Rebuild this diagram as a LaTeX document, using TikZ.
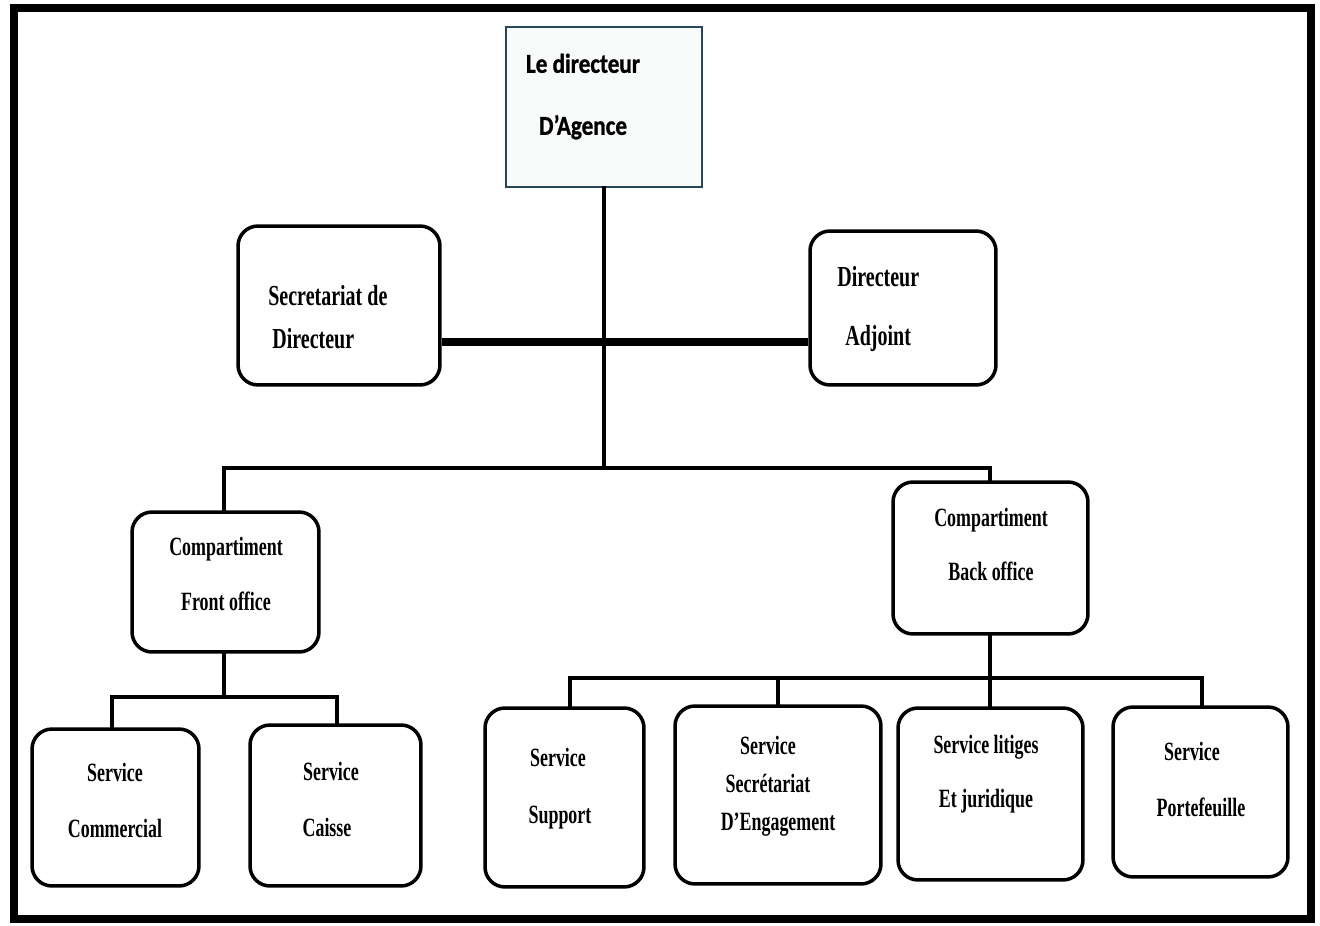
\documentclass[tikz,border=0pt]{standalone}
\usepackage{fontspec}
\newfontfamily\serifc{Liberation Serif Bold}[FakeStretch=0.68]
\newfontfamily\serifm{Liberation Serif Bold}[FakeStretch=0.69]
\newfontfamily\calib{Carlito}[FakeStretch=0.85,FakeBold=1]
\begin{document}
\begin{tikzpicture}[x=0.02cm,y=-0.02cm,
  box/.style={draw=black,line width=2pt,rounded corners=0.4cm,fill=white,inner sep=0pt},
  topbox/.style={draw={rgb,255:red,40;green,70;blue,90},line width=1.2pt,fill={rgb,255:red,249;green,250;blue,250},inner sep=0pt},
  conn/.style={line width=2.6pt,line cap=rect},
  thick conn/.style={line width=5pt},
  lbl/.style={font=\serifc\fontsize{15}{18}\selectfont,inner sep=0pt,anchor=mid,yshift=-0.07cm},
  lblm/.style={font=\serifm\fontsize{16.5}{19}\selectfont,inner sep=0pt,anchor=mid west,yshift=-0.07cm},
  lbltop/.style={font=\calib\bfseries\fontsize{15.5}{18}\selectfont,inner sep=0pt,anchor=mid,yshift=-0.06cm}]
\useasboundingbox (0,0) rectangle (1320,926);
\fill[white] (0,0) rectangle (1320,926);
\draw[line width=5pt] (14,8) rectangle (1311,919);
% boxes
\node[topbox,minimum width=3.92cm,minimum height=3.2cm] (top) at (604,107) {};
\node[box,minimum width=4.04cm,minimum height=3.18cm] (sec) at (339,305.5) {};
\node[box,minimum width=3.72cm,minimum height=3.08cm] (adj) at (903,308) {};
\node[box,minimum width=3.74cm,minimum height=2.8cm] (fo) at (225.5,582) {};
\node[box,minimum width=3.9cm,minimum height=3.04cm] (bo) at (990.5,558) {};
\node[box,minimum width=3.34cm,minimum height=3.14cm] (com) at (115.5,807.5) {};
\node[box,minimum width=3.42cm,minimum height=3.22cm] (cai) at (335.5,805.5) {};
\node[box,minimum width=3.18cm,minimum height=3.58cm] (sup) at (564.5,797.5) {};
\node[box,minimum width=4.12cm,minimum height=3.56cm] (eng) at (778,795) {};
\node[box,minimum width=3.7cm,minimum height=3.44cm] (lit) at (990.5,794) {};
\node[box,minimum width=3.5cm,minimum height=3.4cm] (por) at (1200.5,792) {};
% junction coordinates
\coordinate (j1) at (604,468);
\coordinate (jl) at (224,468);
\coordinate (jr) at (990,468);
\coordinate (f0) at (224,697);
\coordinate (f1) at (112,697);
\coordinate (f2) at (337,697);
\coordinate (b0) at (990,678);
\coordinate (b1) at (570,678);
\coordinate (b2) at (778,678);
\coordinate (b4) at (1202,678);
\coordinate (m) at (604,342);
% connectors
\draw[thick conn] (sec.east |- m) -- (adj.west |- m);
\draw[conn] (top.south -| j1) -- (j1);
\draw[conn] (jl |- fo.north) -- (jl) -- (jr) -- (jr |- bo.north);
\draw[conn] (fo.south -| f0) -- (f0);
\draw[conn] (f1 |- com.north) -- (f1) -- (f2) -- (f2 |- cai.north);
\draw[conn] (bo.south -| b0) -- (b0 |- lit.north);
\draw[conn] (b1 |- sup.north) -- (b1) -- (b4) -- (b4 |- por.north);
\draw[conn] (b2) -- (b2 |- eng.north);
% labels
\node[lbltop] (t1) at (583,66) {Le directeur};
\node[lbltop] (t2) at (583,128) {D’Agence};
\node[lblm] (s1) at (268,298) {Secretariat de};
\node[lblm] (s2) at (272,341) {Directeur};
\node[lblm] (a1) at (837,279) {Directeur};
\node[lblm] (a2) at (845,338) {Adjoint};
\node[lbl] (fo1) at (226,548) {Compartiment};
\node[lbl] (fo2) at (226,603) {Front office};
\node[lbl] (bo1) at (991,519) {Compartiment};
\node[lbl] (bo2) at (991,573) {Back office};
\node[lbl] (c1) at (115,774) {Service};
\node[lbl] (c2) at (115,830) {Commercial};
\node[lbl] (k1) at (331,773) {Service};
\node[lbl] (k2) at (327,829) {Caisse};
\node[lbl] (u1) at (558,759) {Service};
\node[lbl] (u2) at (560,816) {Support};
\node[lbl] (e1) at (768,747) {Service};
\node[lbl] (e2) at (768,785) {Secrétariat};
\node[lbl] (e3) at (778,823) {D’Engagement};
\node[lbl] (l1) at (986,746) {Service litiges};
\node[lbl] (l2) at (986,800) {Et juridique};
\node[lbl] (p1) at (1192,753) {Service};
\node[lbl] (p2) at (1201,809) {Portefeuille};
\end{tikzpicture}
\end{document}
